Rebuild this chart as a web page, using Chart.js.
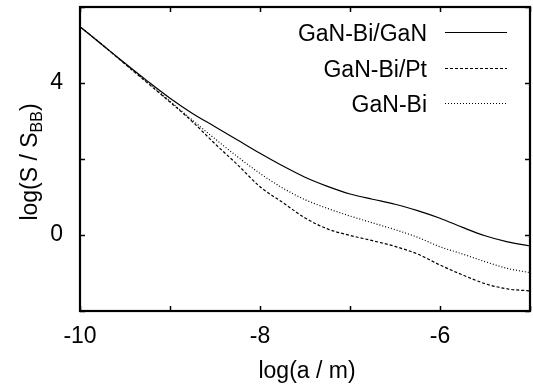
<!DOCTYPE html>
<html>
<head>
<meta charset="utf-8">
<script src="https://cdn.jsdelivr.net/npm/chart.js@4"></script>
<style>
  html, body { margin: 0; padding: 0; background: #fff; }
  #wrap { width: 533px; height: 388px; }
</style>
</head>
<body>
<div id="wrap"><canvas id="c"></canvas></div>
<script>
// log(a / m)
const logA = [-10, -9.75, -9.5, -9.25, -9, -8.75, -8.5, -8.25, -8, -7.75, -7.5,
              -7.25, -7, -6.75, -6.5, -6.25, -6, -5.75, -5.5, -5.25, -5];
// log(S / S_BB)
const ganBiGaN = [5.48, 5.0, 4.52, 4.05, 3.6, 3.2, 2.85, 2.5, 2.15, 1.82, 1.52,
                  1.28, 1.08, 0.94, 0.81, 0.64, 0.44, 0.20, -0.02, -0.18, -0.29];
const ganBiPt  = [5.48, 5.0, 4.5, 4.0, 3.5, 2.98, 2.40, 1.85, 1.27, 0.86, 0.45,
                  0.16, -0.01, -0.15, -0.30, -0.50, -0.79, -1.05, -1.28, -1.42, -1.47];
const ganBi    = [5.48, 5.0, 4.5, 4.02, 3.52, 3.02, 2.53, 2.06, 1.62, 1.24, 0.93,
                  0.70, 0.50, 0.32, 0.14, -0.06, -0.31, -0.50, -0.70, -0.88, -0.99];

const xTicks = [-10, -9, -8, -7, -6, -5];
const yTicks = [-2, 0, 2, 4, 6];
const xLabels = [-10, -8, -6];
const yLabels = [0, 4];

const FONT = '"Liberation Sans", Arial, sans-serif';
const pts = ys => logA.map((x, i) => ({ x, y: ys[i] }));

const series = [
  { label: 'GaN-Bi/GaN', data: ganBiGaN, dash: [] },
  { label: 'GaN-Bi/Pt', data: ganBiPt, dash: [3, 2] },
  { label: 'GaN-Bi', data: ganBi, dash: [1, 2] },
];

// frame, inward ticks, legend and axis titles (gnuplot look)
const decor = {
  id: 'decor',
  afterDraw(chart) {
    const { ctx, chartArea: a, scales: { x, y } } = chart;
    ctx.save();
    ctx.strokeStyle = '#000';
    ctx.lineWidth = 1.5;
    xTicks.forEach(v => {
      const px = Math.round(x.getPixelForValue(v)) + 0.5;
      ctx.beginPath();
      ctx.moveTo(px, a.bottom); ctx.lineTo(px, a.bottom - 5);
      ctx.moveTo(px, a.top); ctx.lineTo(px, a.top + 5);
      ctx.stroke();
    });
    yTicks.forEach(v => {
      const py = Math.round(y.getPixelForValue(v)) + 0.5;
      ctx.beginPath();
      ctx.moveTo(a.left, py); ctx.lineTo(a.left + 5, py);
      ctx.moveTo(a.right, py); ctx.lineTo(a.right - 5, py);
      ctx.stroke();
    });
    ctx.lineWidth = 2.2;
    ctx.strokeRect(a.left, a.top, a.right - a.left, a.bottom - a.top);

    // legend
    ctx.font = '23px ' + FONT;
    ctx.fillStyle = '#000';
    ctx.textAlign = 'right';
    ctx.textBaseline = 'alphabetic';
    const rows = [41, 77, 112];
    series.forEach((s, i) => {
      const by = rows[i];
      ctx.fillText(s.label, 427, by);
      ctx.beginPath();
      ctx.lineWidth = 1.2;
      ctx.setLineDash(s.dash);
      ctx.moveTo(445, by - 8.5); ctx.lineTo(507, by - 8.5);
      ctx.stroke();
    });
    ctx.setLineDash([]);

    // x title
    ctx.textAlign = 'center';
    ctx.fillText('log(a / m)', 307, 378);

    // y title with subscript
    ctx.translate(37, 162);
    ctx.rotate(-Math.PI / 2);
    const main = 'log(S / S', sub = 'BB', end = ')';
    ctx.font = '23px ' + FONT;
    const w1 = ctx.measureText(main).width, w3 = ctx.measureText(end).width;
    ctx.font = '16px ' + FONT;
    const w2 = ctx.measureText(sub).width;
    let cx = -(w1 + w2 + w3) / 2;
    ctx.textAlign = 'left';
    ctx.font = '23px ' + FONT;
    ctx.fillText(main, cx, 0); cx += w1;
    ctx.font = '16px ' + FONT;
    ctx.fillText(sub, cx, 5); cx += w2;
    ctx.font = '23px ' + FONT;
    ctx.fillText(end, cx, 0);
    ctx.restore();
  }
};

new Chart(document.getElementById('c'), {
  type: 'line',
  data: {
    datasets: series.map(s => ({
      label: s.label,
      data: pts(s.data),
      borderColor: '#000',
      borderWidth: 1.2,
      borderDash: s.dash,
      pointRadius: 0,
      fill: false,
      cubicInterpolationMode: 'monotone',
    })),
  },
  options: {
    responsive: true, maintainAspectRatio: false, animation: false,
    layout: { padding: { top: 7, right: 3, left: 0, bottom: 0 } },
    plugins: { legend: { display: false }, tooltip: { enabled: false } },
    scales: {
      x: {
        type: 'linear', min: -10, max: -5,
        afterFit(scale) { scale.height = 77; scale.paddingLeft = 0; scale.paddingRight = 0; },
        grid: { display: false, drawTicks: false },
        border: { display: false },
        ticks: {
          stepSize: 1, padding: 12, color: '#000', maxRotation: 0,
          font: { family: FONT, size: 23 },
          callback: v => (xLabels.includes(v) ? String(v) : ''),
        },
      },
      y: {
        type: 'linear', min: -2, max: 6,
        afterFit(scale) { scale.width = 80; scale.paddingTop = 0; scale.paddingBottom = 0; },
        grid: { display: false, drawTicks: false },
        border: { display: false },
        ticks: {
          stepSize: 2, padding: 17, color: '#000',
          font: { family: FONT, size: 23 },
          callback: v => (yLabels.includes(v) ? String(v) : ''),
        },
      },
    },
  },
  plugins: [decor],
});
</script>
</body>
</html>
